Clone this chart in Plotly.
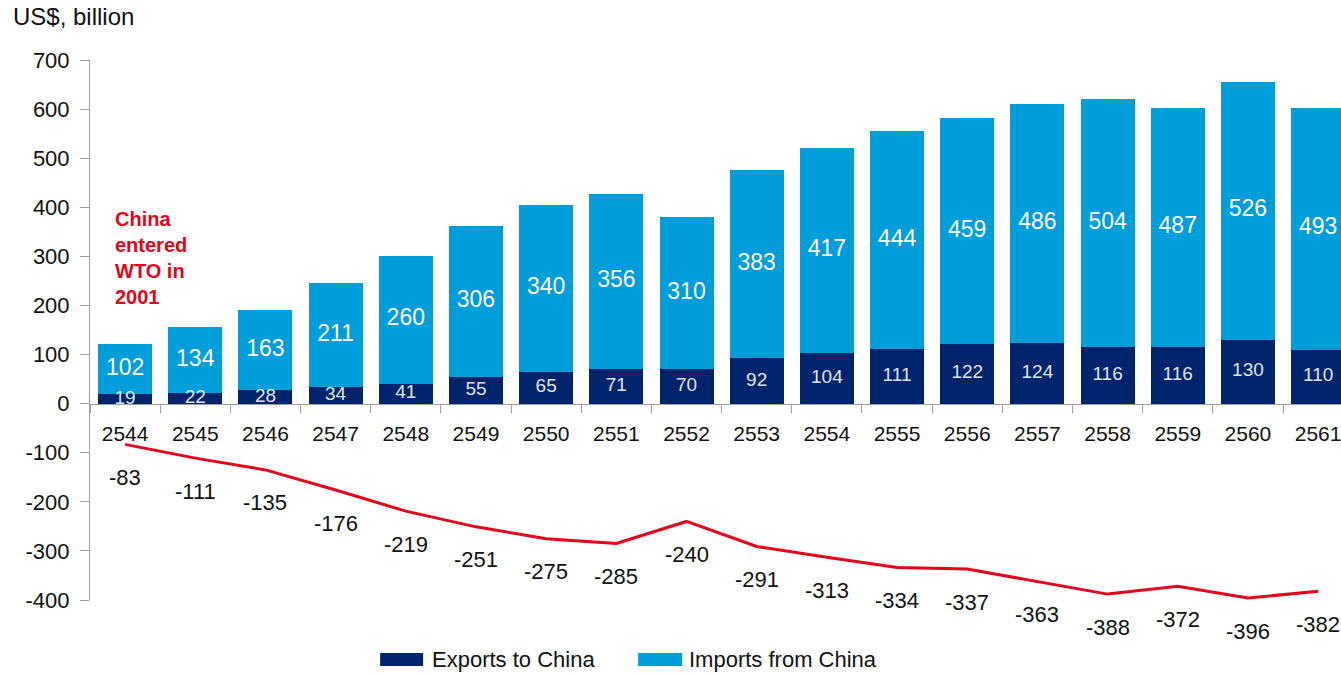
import plotly.graph_objects as go

# Thai Buddhist-era years (2544 = 2001)
years = ["2544", "2545", "2546", "2547", "2548", "2549", "2550", "2551", "2552",
         "2553", "2554", "2555", "2556", "2557", "2558", "2559", "2560", "2561"]
exports_to_china = [19, 22, 28, 34, 41, 55, 65, 71, 70, 92, 104, 111, 122, 124, 116, 116, 130, 110]
imports_from_china = [102, 134, 163, 211, 260, 306, 340, 356, 310, 383, 417, 444, 459, 486, 504, 487, 526, 493]
trade_balance = [-83, -111, -135, -176, -219, -251, -275, -285, -240, -291, -313, -334, -337,
                 -363, -388, -372, -396, -382]
y_ticks = [700, 600, 500, 400, 300, 200, 100, 0, -100, -200, -300, -400]

NAVY = "#00246b"
BLUE = "#009ddb"
RED = "#e3051b"
AXIS_GREY = "#a0a0a0"
TEXT = "#111111"
FONT = "Liberation Sans, Arial, sans-serif"

Y_MIN, Y_MAX = -400, 700
W, H = 1341, 675
M_L, M_R, M_T, M_B = 89.8, 0, 60, 75
PLOT_W = W - M_L - M_R
PLOT_H = H - M_T - M_B


def px_x(p):
    """pixel column -> paper x"""
    return (p - M_L) / PLOT_W


def px_y(p):
    """pixel row -> paper y"""
    return (H - M_B - p) / PLOT_H


fig = go.Figure()

fig.add_trace(go.Bar(
    x=years, y=exports_to_china, name="Exports to China",
    marker=dict(color=NAVY, line=dict(width=0)), showlegend=False,
))
fig.add_trace(go.Bar(
    x=years, y=imports_from_china, name="Imports from China",
    marker=dict(color=BLUE, line=dict(width=0)), showlegend=False,
))

# value labels centred in each stacked segment
fig.add_trace(go.Scatter(
    x=years, y=[e / 2 for e in exports_to_china],
    mode="text", text=[str(v) for v in exports_to_china],
    textfont=dict(family=FONT, size=19, color="#dfe5f0"),
    showlegend=False, hoverinfo="skip", cliponaxis=False,
))
fig.add_trace(go.Scatter(
    x=years, y=[e + i / 2 for e, i in zip(exports_to_china, imports_from_china)],
    mode="text", text=[str(v) for v in imports_from_china],
    textfont=dict(family=FONT, size=23, color="white"),
    showlegend=False, hoverinfo="skip", cliponaxis=False,
))

# trade balance line
fig.add_trace(go.Scatter(
    x=years, y=trade_balance, mode="lines",
    line=dict(color=RED, width=3),
    showlegend=False, hoverinfo="skip", cliponaxis=False,
))

annotations = []
for idx, v in enumerate(trade_balance):
    annotations.append(dict(
        xref="x", yref="y", x=idx, y=v, text=str(v), showarrow=False, yshift=-33,
        font=dict(family=FONT, size=22, color=TEXT),
    ))

annotations.append(dict(
    xref="x", yref="y", x=0, y=297, xshift=-12, xanchor="left", yanchor="middle",
    align="left", text="<b>China<br>entered<br>WTO in<br>2001</b>", showarrow=False,
    font=dict(family=FONT, size=20, color=RED),
))

annotations.append(dict(
    xref="paper", yref="paper", x=px_x(11), y=px_y(17),
    xanchor="left", yanchor="middle", text="US$, billion", showarrow=False,
    font=dict(family=FONT, size=24, color=TEXT),
))

# legend: wide colour swatches with labels underneath the chart
legend_items = [("Exports to China", NAVY, 380, 423, 430),
                ("Imports from China", BLUE, 638, 682, 687)]
shapes = []
for label, colour, x0, x1, tx in legend_items:
    shapes.append(dict(
        type="rect", xref="paper", yref="paper",
        x0=px_x(x0), x1=px_x(x1), y0=px_y(666), y1=px_y(653),
        fillcolor=colour, line=dict(width=0),
    ))
    annotations.append(dict(
        xref="paper", yref="paper", x=px_x(tx), y=px_y(659.5),
        xanchor="left", yanchor="middle", text=label, showarrow=False,
        font=dict(family=FONT, size=22, color=TEXT),
    ))

zero_pos = (0 - Y_MIN) / (Y_MAX - Y_MIN)

fig.update_layout(
    width=W, height=H,
    margin=dict(l=M_L, r=M_R, t=M_T, b=M_B, autoexpand=False),
    paper_bgcolor="white", plot_bgcolor="white",
    barmode="stack", bargap=0.23,
    font=dict(family=FONT, color=TEXT),
    annotations=annotations, shapes=shapes,
    showlegend=False,
    xaxis=dict(
        type="category", range=[-0.5, 17.326],
        anchor="free", position=zero_pos,
        showline=True, linecolor=AXIS_GREY, linewidth=1,
        ticks="outside", tickson="boundaries", ticklen=8, tickcolor=AXIS_GREY,
        tickfont=dict(family=FONT, size=21, color=TEXT),
        ticklabelstandoff=11,
        showgrid=False, zeroline=False,
    ),
    yaxis=dict(
        range=[Y_MIN, Y_MAX], tickvals=y_ticks, ticktext=[str(v) for v in y_ticks],
        showline=True, linecolor=AXIS_GREY, linewidth=1,
        ticks="outside", ticklen=9, tickcolor=AXIS_GREY,
        tickfont=dict(family=FONT, size=22, color=TEXT),
        ticklabelstandoff=6,
        showgrid=False, zeroline=False,
    ),
)

fig.write_html("out.html")
